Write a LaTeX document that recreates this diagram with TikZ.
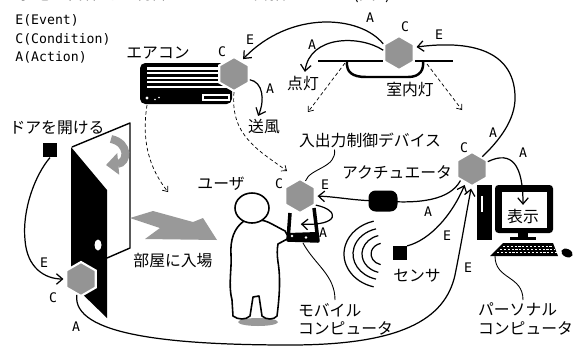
\documentclass[tikz,border=0pt]{standalone}
\usepackage{fontspec}
\newfontfamily\jpfont{Noto Sans CJK JP}
\newfontfamily\tagfont{DejaVu Sans Mono}
\usetikzlibrary{
  shapes.geometric,
  arrows.meta
}

\tikzset{
  hexa/.style={regular polygon, regular polygon sides=6, shape border rotate=30,
    minimum size=0.68cm, inner sep=0pt, fill=black!42, draw=white, line width=1.2pt},
  jp/.style={font=\jpfont\fontsize{9}{10.4}\selectfont, inner sep=1pt},
  tag/.style={font=\tagfont\fontsize{7.5}{9}\selectfont, inner sep=0pt},
  flow/.style={-{Straight Barb[length=3.5pt,width=6pt]}, line width=0.7pt, shorten >=1pt},
  hint/.style={-{Straight Barb[length=2.5pt,width=4pt]}, line width=0.4pt, dash pattern=on 2pt off 1.5pt},
  lead/.style={line width=0.5pt},
  blob/.style={fill=black, rounded corners=4pt, minimum width=0.58cm, minimum height=0.42cm, inner sep=0pt},
  sq/.style={fill=black, minimum size=0.29cm, inner sep=0pt}
}

\begin{document}
\begin{tikzpicture}[x=0.02cm, y=-0.02cm]
  \useasboundingbox (0,0) rectangle (574,345);
  \clip (0,0) rectangle (574,345);

  \node[font=\jpfont\fontsize{9.6}{11}\selectfont, anchor=base east, inner sep=0pt] (tHead) at (408,-1) {家電を自律的に制御することを目指している(図1)。};

  \node[tag, anchor=west] (lgE) at (15,20) {E(Event)};
  \node[tag, anchor=west] (lgC) at (15,39) {C(Condition)};
  \node[tag, anchor=west] (lgA) at (15,57) {A(Action)};

  % air conditioner
  \fill[rounded corners=3pt] (140,63) rectangle (232,104);
  \fill[white] (147,67) rectangle (228,90);
  \foreach \y in {71,75.5,80,84.5,89}
    \draw[line width=1.2pt] (147,\y) -- (228,\y);
  \fill[white] (147,98) circle[radius=1.6] (155,99.5) circle[radius=0.9] (159,97.5) circle[radius=0.9];
  \draw[white, line width=0.7pt] (203,95) rectangle (229,100);

  % lamp
  \draw[line width=1pt] (318,61) -- (453,61);
  \draw[line width=1.4pt] (347,61) .. controls (346,72) and (352,77) .. (366,77) -- (408,77) .. controls (420,77) and (424,70) .. (423,61);

  % door
  \draw[line width=0.8pt, line join=round] (72,147) -- (130,123) -- (130,248) -- (107,258);
  \fill (71,147) -- (107,190) -- (107,318) -- (71,283) -- cycle;
  \fill[white] (98,245) ellipse[x radius=3.5, y radius=5.5];
  \draw[line width=4.5pt, black!40, -{Triangle[length=7pt,width=12pt]}] (111,139) .. controls (130,143) and (128,163) .. (106,165);
  \fill[black!40] (130,218) -- (153,211) -- (193,222) -- (203,218) -- (217,240) -- (145,239) -- (160,228) -- cycle;

  % user
  \fill[black!40] (258,322) ellipse[x radius=20, y radius=4];
  \draw[fill=white, line width=0.9pt, line join=round] (244,221) .. controls (234,228) and (230,240) .. (231,255) .. controls (232,268) and (228,285) .. (232,300) -- (233,316) .. controls (238,320) and (246,320) .. (250,316) -- (253,297) -- (259,296) -- (262,316) .. controls (266,320) and (274,320) .. (277,316) .. controls (279,300) and (281,280) .. (278,262) .. controls (277,255) and (277,249) .. (278,244) -- (289,238) -- (285,231) -- (270,223) .. controls (266,221) and (262,220) .. (258,220) -- cycle;
  \draw[fill=white, line width=0.9pt] (252,208) ellipse[x radius=17, y radius=15];

  % mobile
  \draw[line width=2pt, line join=round] (290,213) -- (288,240) -- (318,241) -- (314,208);
  \fill (288,233) -- (317,232) -- (318,241) -- (288,240) -- cycle;
  \fill[white] (292,236) circle[radius=1.3] (306,237.5) circle[radius=1.3];
  \coordinate (phone) at (299,224);

  % personal computer
  \fill (477,185) rectangle (492,240);
  \draw[white, line width=1pt] (482,196) -- (482,212);
  \fill[rounded corners=2pt] (495,185) rectangle (553,233);
  \fill[white] (502,192) rectangle (547,228);
  \fill (518,233) rectangle (528,237);
  \fill (510,237) rectangle (536,239.5);
  \fill (490,256) -- (503,243) -- (553,243) -- (558,256) -- cycle;
  \foreach \y/\l/\r in {246.5/503/552, 249.5/500/555, 252.5/497/557}
    \draw[white, line width=0.8pt, dash pattern=on 1.2pt off 1pt] (\l,\y) -- (\r,\y);
  \fill[rotate around={-25:(567,253)}] (567,253) ellipse[x radius=6, y radius=4];

  % sensor waves
  \foreach \r/\s in {13/11,22/19,31/26,40/34}
    \draw[line width=0.7pt] ({384+\r*cos(105)},{254+\s*sin(105)}) arc[start angle=105, end angle=255, x radius=\r, y radius=\s];

  \node[hexa] (hAC) at (234,74) {};
  \node[hexa] (hLamp) at (399,53) {};
  \node[hexa] (hPC) at (472,169) {};
  \node[hexa] (hMob) at (300,196) {};
  \node[hexa] (hDoor) at (81,279) {};

  \node[sq] (sqOpen) at (50,150) {};
  \node[sq, minimum size=0.27cm] (sensor) at (400,253) {};

  \node[jp] (tAC) at (158,53) {エアコン};
  \node[jp] (tOpen) at (57,128) {ドアを開ける};
  \node[jp] (tEnter) at (173,261) {部屋に入場};
  \node[jp] (tUser) at (221,184) {ユーザ};
  \node[jp] (tIO) at (370,140) {入出力制御デバイス};
  \node[jp] (tAct) at (397,172) {アクチュエータ};
  \node[jp] (tShow) at (523,216) {表示};
  \node[jp] (tSensor) at (417,276) {センサ};
  \node[jp] (tTento) at (303,83) {点灯};
  \node[jp] (tLamp) at (410,90) {室内灯};
  \node[jp] (tWind) at (264,127) {送風};
  \node[jp, align=left, anchor=north west] (tMobile) at (296,301) {モバイル\\コンピュータ};
  \node[jp, align=left, anchor=north west] (tPC) at (476,301) {パーソナル\\コンピュータ};

  \draw[flow] (hLamp.150) .. controls (360,15) and (290,10) .. (hAC.60);
  \draw[flow] (hLamp.170) .. controls (360,35) and (310,35) .. (tTento.80);
  \draw[flow] (hAC.340) .. controls (263,82) and (265,100) .. (tWind.125);
  \draw[flow] (hPC.50) .. controls (505,135) and (516,115) .. (515,95) .. controls (513,50) and (470,40) .. (hLamp.20);
  \draw[flow] (hPC.25) .. controls (512,150) and (523,165) .. (tShow.north);

  \coordinate (actC) at (383,201);
  \draw[flow] (hPC.225) .. controls (450,200) and (420,204) .. (actC) .. controls (355,201) and (340,197) .. (hMob.east);
  \node[blob] (act) at (actC) {};

  \draw[flow] (hMob.330) .. controls (340,210) and (340,226) .. (phone);
  \draw[flow] (sensor.north east) .. controls (430,240) and (452,215) .. (hPC.245);
  \draw[flow] (sqOpen.south) .. controls (35,175) and (22,210) .. (25,240) .. controls (27,268) and (45,279) .. (hDoor.west);
  \draw[flow] (hDoor.255) .. controls (72,335) and (170,345) .. (290,345) .. controls (400,345) and (445,320) .. (455,275) .. controls (462,240) and (466,215) .. (hPC.268);

  \coordinate (acFoot) at (147,105);
  \coordinate (hintUser) at (168,192);
  \coordinate (hintMob) at (287,171);
  \coordinate (lampL) at (345,63);
  \coordinate (hintIO) at (308,112);
  \coordinate (lampR) at (427,64);
  \coordinate (hintPC) at (462,110);
  \draw[hint] (acFoot) .. controls (140,150) and (155,175) .. (hintUser);
  \draw[hint] (hAC.south) .. controls (230,135) and (258,150) .. (hintMob);
  \draw[hint] (lampL) -- (hintIO);
  \draw[hint] (lampR) -- (hintPC);

  \coordinate (mobLead) at (335,300);
  \coordinate (kbd) at (495,256);
  \coordinate (pcLead) at (523,300);
  \draw[lead] (tIO.195) .. controls (337,168) and (310,168) .. (hMob.70);
  \draw[lead] (303,243) .. controls (315,265) and (335,275) .. (mobLead);
  \draw[lead] (kbd) .. controls (495,280) and (523,275) .. (pcLead);

  \node[tag] (cAC) at (222,52) {C};
  \node[tag] (eAC) at (250,40) {E};
  \node[tag] (aAC) at (270,89) {A};
  \node[tag] (cLamp) at (405,27) {C};
  \node[tag] (eLamp) at (439,35) {E};
  \node[tag] (aLamp1) at (370,18) {A};
  \node[tag] (aLamp2) at (312,45) {A};
  \node[tag] (cPC) at (464,148) {C};
  \node[tag] (aPC1) at (493,133) {A};
  \node[tag] (aPC2) at (523,153) {A};
  \node[tag] (aPC3) at (428,212) {A};
  \node[tag] (eSens) at (447,236) {E};
  \node[tag] (ePC) at (468,268) {E};
  \node[tag] (cMob) at (279,184) {C};
  \node[tag] (eMob) at (325,185) {E};
  \node[tag] (aMob) at (323,233) {A};
  \node[tag] (eDoor) at (44,263) {E};
  \node[tag] (cDoor) at (53,298) {C};
  \node[tag] (aDoor) at (76,327) {A};
\end{tikzpicture}
\end{document}
